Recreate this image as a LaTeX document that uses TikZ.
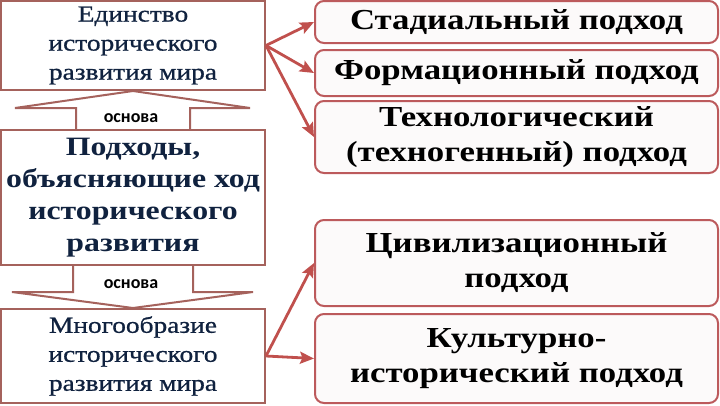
\documentclass[tikz,border=0pt]{standalone}
\usepackage{fontspec}
\setmainfont[FakeStretch=1.2]{Liberation Serif}
\newfontfamily\heavyserif[FakeStretch=1.19,FakeBold=0.8]{Liberation Serif}
\newfontfamily\osnfont{Carlito}
\usetikzlibrary{arrows.meta,calc,backgrounds}

\definecolor{navy}{HTML}{10223F}
\definecolor{boxbrown}{HTML}{A5625C}
\definecolor{boxred}{HTML}{BC5A5C}
\definecolor{arrowred}{HTML}{C0504D}
\definecolor{boxfill}{HTML}{FCFAFA}

\begin{document}
\begin{tikzpicture}[x=1pt,y=-1pt,
  leftbox/.style={draw=boxbrown,line width=2pt,fill=white,minimum width=264pt,
    inner sep=0pt,align=center,text=navy},
  rightbox/.style={draw=boxred,line width=2pt,fill=boxfill,rounded corners=9pt,
    minimum width=403pt,inner sep=0pt,align=center,
    font=\bfseries\fontsize{29}{35}\selectfont},
  basearrow/.style={draw=boxbrown,line width=2pt,fill=white,line join=miter},
  redarrow/.style={draw=arrowred,line width=2.8pt,
    -{Stealth[length=14pt,width=12pt,inset=2.5pt]}},
  osn/.style={font=\osnfont\bfseries\fontsize{18}{20}\selectfont,inner sep=0pt}]
% pixel grid of the slide: 720 x 405, y runs down
\useasboundingbox (0,0) rectangle (720,405);

% left column
\node[leftbox,minimum height=89pt,font=\heavyserif\fontsize{23}{29}\selectfont]
  (unity) at (133,45.5) {Единство\\исторического\\развития мира};
\node[leftbox,minimum height=135pt,font=\bfseries\fontsize{26.5}{32}\selectfont]
  (approaches) at (133,197.5) {Подходы,\\объясняющие ход\\исторического\\развития};
\node[leftbox,minimum height=94pt,font=\heavyserif\fontsize{23}{29}\selectfont]
  (diversity) at (133,356) {Многообразие\\исторического\\развития мира};

% right column
\node[rightbox,minimum height=42pt] (stadial)   at (516.5,22)    {Стадиальный подход};
\node[rightbox,minimum height=46pt] (formation) at (516.5,73)    {Формационный подход};
\node[rightbox,minimum height=72pt] (techno)    at (516.5,137)   {Технологический\\(техногенный) подход};
\node[rightbox,minimum height=86pt] (civil)     at (516.5,263)   {Цивилизационный\\подход};
\node[rightbox,minimum height=89pt] (cultural)  at (516.5,358.5) {Культурно-\\исторический подход};

% the two "основа" block arrows sit behind the boxes
\begin{pgfonlayer}{background}
\draw[basearrow] ($(approaches.north)+(-57,0)$) -- ++(0,-21) -- ++(-61,0)
  -- (unity.south) -- ($(approaches.north)+(117,-21)$) -- ++(-60,0)
  -- ($(approaches.north)+(57,0)$);
\draw[basearrow] ($(approaches.south)+(-60,0)$) -- ++(0,26) -- ++(-61,0)
  -- (diversity.north) -- ($(approaches.south)+(120,26)$) -- ++(-60,0)
  -- ($(approaches.south)+(60,0)$);
\end{pgfonlayer}
\node[osn] (osnUp)   at (131,118) {основа};
\node[osn] (osnDown) at (131,284) {основа};

% connectors
\foreach \t in {stadial,formation,techno}{
  \draw[redarrow] (unity.east) -- (\t.west);}
\foreach \t in {civil,cultural}{
  \draw[redarrow] (diversity.east) -- (\t.west);}
\end{tikzpicture}
\end{document}
